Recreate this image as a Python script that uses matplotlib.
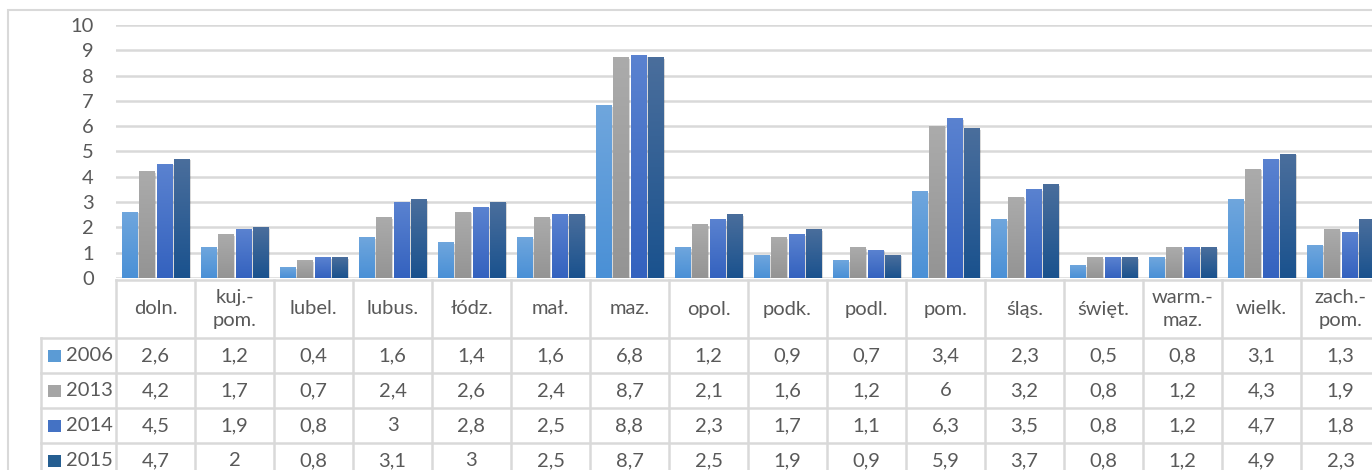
import numpy as np
import matplotlib
matplotlib.use('Agg')
from matplotlib import pyplot as plt
from matplotlib.patches import Rectangle
from matplotlib.colors import to_rgb

plt.rcParams['font.family'] = ['Lato', 'DejaVu Sans']

regions = ['doln.', 'kuj.-\npom.', 'lubel.', 'lubus.', 'łódz.', 'mał.', 'maz.', 'opol.',
           'podk.', 'podl.', 'pom.', 'śląs.', 'święt.', 'warm.-\nmaz.', 'wielk.', 'zach.-\npom.']
years = ['2006', '2013', '2014', '2015']
v2006 = [2.6, 1.2, 0.4, 1.6, 1.4, 1.6, 6.8, 1.2, 0.9, 0.7, 3.4, 2.3, 0.5, 0.8, 3.1, 1.3]
v2013 = [4.2, 1.7, 0.7, 2.4, 2.6, 2.4, 8.7, 2.1, 1.6, 1.2, 6, 3.2, 0.8, 1.2, 4.3, 1.9]
v2014 = [4.5, 1.9, 0.8, 3, 2.8, 2.5, 8.8, 2.3, 1.7, 1.1, 6.3, 3.5, 0.8, 1.2, 4.7, 1.8]
v2015 = [4.7, 2, 0.8, 3.1, 3, 2.5, 8.7, 2.5, 1.9, 0.9, 5.9, 3.7, 0.8, 1.2, 4.9, 2.3]
series = [v2006, v2013, v2014, v2015]

# top / bottom colour of each gradient bar
tops = ['#6fa6dd', '#ababab', '#5a82d0', '#4a6e9c']
bottoms = ['#4a90d6', '#949494', '#3462bf', '#1a528e']
keys = ['#5b9bd5', '#a5a5a5', '#4472c4', '#255e91']

W, H = 1372, 470
fig = plt.figure(figsize=(W / 100, H / 100), dpi=100)
grid_c = '#d9d9d9'
txt_c = '#595959'
cw = 79.0  # category width in px
fs = 14.5

# outer chart frame (cut by the image on right/bottom)
fig.add_artist(Rectangle((8 / W, -0.2), 2, (H - 10) / H + 0.2, transform=fig.transFigure,
                         fill=False, ec=grid_c, lw=1.5))

ax = fig.add_axes([116 / W, (H - 278) / H, 16 * cw / W, 253 / H])
x = np.arange(len(regions))
step, bw = 0.22, 0.19
for i, vals in enumerate(series):
    bars = ax.bar(x + (i - 1.5) * step, vals, bw, color=keys[i], zorder=3)
    grad = np.linspace(to_rgb(tops[i]), to_rgb(bottoms[i]), 64)[:, None, :]
    for b in bars:
        x0, h = b.get_x(), b.get_height()
        # soft shadow
        ax.add_patch(Rectangle((x0 + 0.025, 0), bw, h - 0.05, color='#000000', alpha=0.15, lw=0, zorder=2))
        ax.imshow(grad, extent=[x0, x0 + bw, 0, h], aspect='auto', zorder=3, interpolation='bilinear')

ax.set_xlim(-0.5, len(regions) - 0.5)
ax.set_ylim(0, 10)
ax.set_yticks(range(11))
ax.yaxis.grid(True, color=grid_c, lw=1.8, zorder=0)
ax.set_axisbelow(True)
for s in ax.spines.values():
    s.set_visible(False)
ax.tick_params(axis='y', length=0, pad=16, labelsize=fs, labelcolor=txt_c)
ax.tick_params(axis='x', length=0, labelbottom=False)

# data table below the plot, in pixel rows
tab = fig.add_axes([41 / W, 0, (16 * cw + 75) / W, 190 / H])
lx = -0.5 - 75 / cw
tab.set_xlim(lx, len(regions) - 0.5)
tab.set_ylim(470, 280)
tab.axis('off')
rows_y = [338, 373, 408, 443, 478]
tab.plot([-0.5, len(regions) - 0.5], [280, 280], color=grid_c, lw=1.8, clip_on=False)
for yy in rows_y:
    tab.plot([lx, len(regions) - 0.5], [yy, yy], color=grid_c, lw=1.8, clip_on=False)
tab.plot([lx, lx], [338, 478], color=grid_c, lw=1.8, clip_on=False)
for k in range(len(regions) + 1):
    tab.plot([k - 0.5, k - 0.5], [280, 478], color=grid_c, lw=1.8, clip_on=False)
for k, name in enumerate(regions):
    tab.text(k, 309, name, ha='center', va='center', fontsize=fs, color=txt_c, linespacing=1.45)
for r, (yr, vals) in enumerate(zip(years, series)):
    yc = (rows_y[r] + rows_y[r + 1]) / 2
    tab.add_patch(Rectangle((lx + 7 / cw, yc + 6), 13 / cw, -12, color=keys[r], lw=0))
    tab.text(lx + 25 / cw, yc, yr, ha='left', va='center', fontsize=fs, color=txt_c)
    for k, v in enumerate(vals):
        tab.text(k, yc, ('%g' % v).replace('.', ','), ha='center', va='center', fontsize=fs, color=txt_c)

fig.savefig('out.png', dpi=100)
